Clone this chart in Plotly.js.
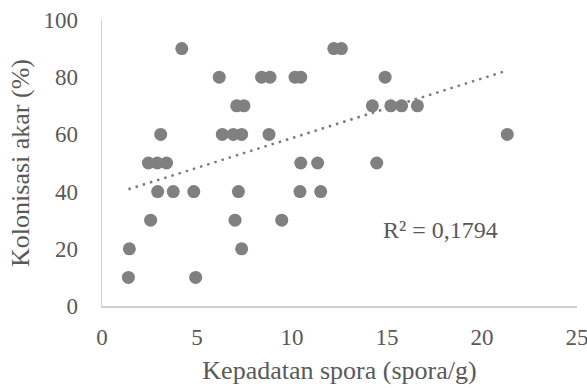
<!DOCTYPE html>
<html>
<head>
<meta charset="utf-8">
<script src="https://cdn.plot.ly/plotly-3.0.1.min.js"></script>
<style>
html,body{margin:0;padding:0;background:#fff;}
#chart{width:587px;height:388px;}
</style>
</head>
<body>
<div id="chart"></div>
<script>
// Spore density (spora/g)
var sporeDensity = [
  4.2, 12.2, 12.6,
  6.17, 8.4, 8.84, 10.16, 10.46, 14.9,
  7.09, 7.47, 14.23, 15.2, 15.77, 16.6,
  3.09, 6.33, 6.91, 7.35, 8.79, 21.33,
  2.44, 2.91, 3.4, 10.46, 11.35, 14.46,
  2.93, 3.75, 4.83, 7.18, 10.42, 11.51,
  2.56, 7.0, 9.46,
  1.44, 7.35,
  1.39, 4.93
];
// Root colonisation (%)
var rootColonisation = [
  90, 90, 90,
  80, 80, 80, 80, 80, 80,
  70, 70, 70, 70, 70, 70,
  60, 60, 60, 60, 60, 60,
  50, 50, 50, 50, 50, 50,
  40, 40, 40, 40, 40, 40,
  30, 30, 30,
  20, 20,
  10, 10
];
var xTickVals = [0, 5, 10, 15, 20, 25];
var yTickVals = [0, 20, 40, 60, 80, 100];
var r2Label = 'R² = 0,1794';

// Linear trendline (least squares) derived from the data
var n = sporeDensity.length, sx = 0, sy = 0, sxx = 0, sxy = 0;
for (var i = 0; i < n; i++) {
  sx += sporeDensity[i]; sy += rootColonisation[i];
  sxx += sporeDensity[i] * sporeDensity[i];
  sxy += sporeDensity[i] * rootColonisation[i];
}
var slope = (n * sxy - sx * sy) / (n * sxx - sx * sx);
var intercept = (sy - slope * sx) / n;
var xMin = Math.min.apply(null, sporeDensity), xMax = Math.max.apply(null, sporeDensity);
var trendX = [xMin, xMax];
var trendY = trendX.map(function (v) { return intercept + slope * v; });

var font = "'Liberation Serif', 'Times New Roman', Times, serif";
var textColor = '#595959';

var traces = [
  {
    x: trendX, y: trendY, type: 'scatter', mode: 'lines',
    line: {color: '#747c87', width: 2.5, dash: '2.5px,5px'},
    hoverinfo: 'skip'
  },
  {
    x: sporeDensity, y: rootColonisation, type: 'scatter', mode: 'markers',
    marker: {color: '#808080', size: 13}
  }
];

var layout = {
  width: 587, height: 388,
  margin: {l: 102, r: 10, t: 20, b: 82},
  paper_bgcolor: '#fff', plot_bgcolor: '#fff',
  showlegend: false,
  font: {family: font, color: textColor, size: 23},
  xaxis: {
    range: [0, 25], tickvals: xTickVals, ticks: '',
    showgrid: false, zeroline: false,
    showline: true, linecolor: '#d0d0d0', linewidth: 1.5,
    tickfont: {family: font, color: textColor, size: 23},
    ticklabelstandoff: 10, ticklabeloverflow: 'allow',
    title: {text: 'Kepadatan spora (spora/g)', font: {family: font, color: textColor, size: 26}, standoff: 11}
  },
  yaxis: {
    range: [0, 100], tickvals: yTickVals, ticks: '',
    showgrid: false, zeroline: false,
    showline: true, linecolor: '#d0d0d0', linewidth: 1.5,
    tickfont: {family: font, color: textColor, size: 23},
    ticklabelstandoff: 18, ticklabeloverflow: 'allow',
    title: {text: 'Kolonisasi akar (%)', font: {family: font, color: textColor, size: 26}, standoff: 6}
  },
  annotations: [{
    x: 17.84, y: 26.6, xref: 'x', yref: 'y', text: r2Label, showarrow: false,
    font: {family: font, color: textColor, size: 24}
  }]
};

Plotly.newPlot('chart', traces, layout, {displayModeBar: false, staticPlot: true});
</script>
</body>
</html>
